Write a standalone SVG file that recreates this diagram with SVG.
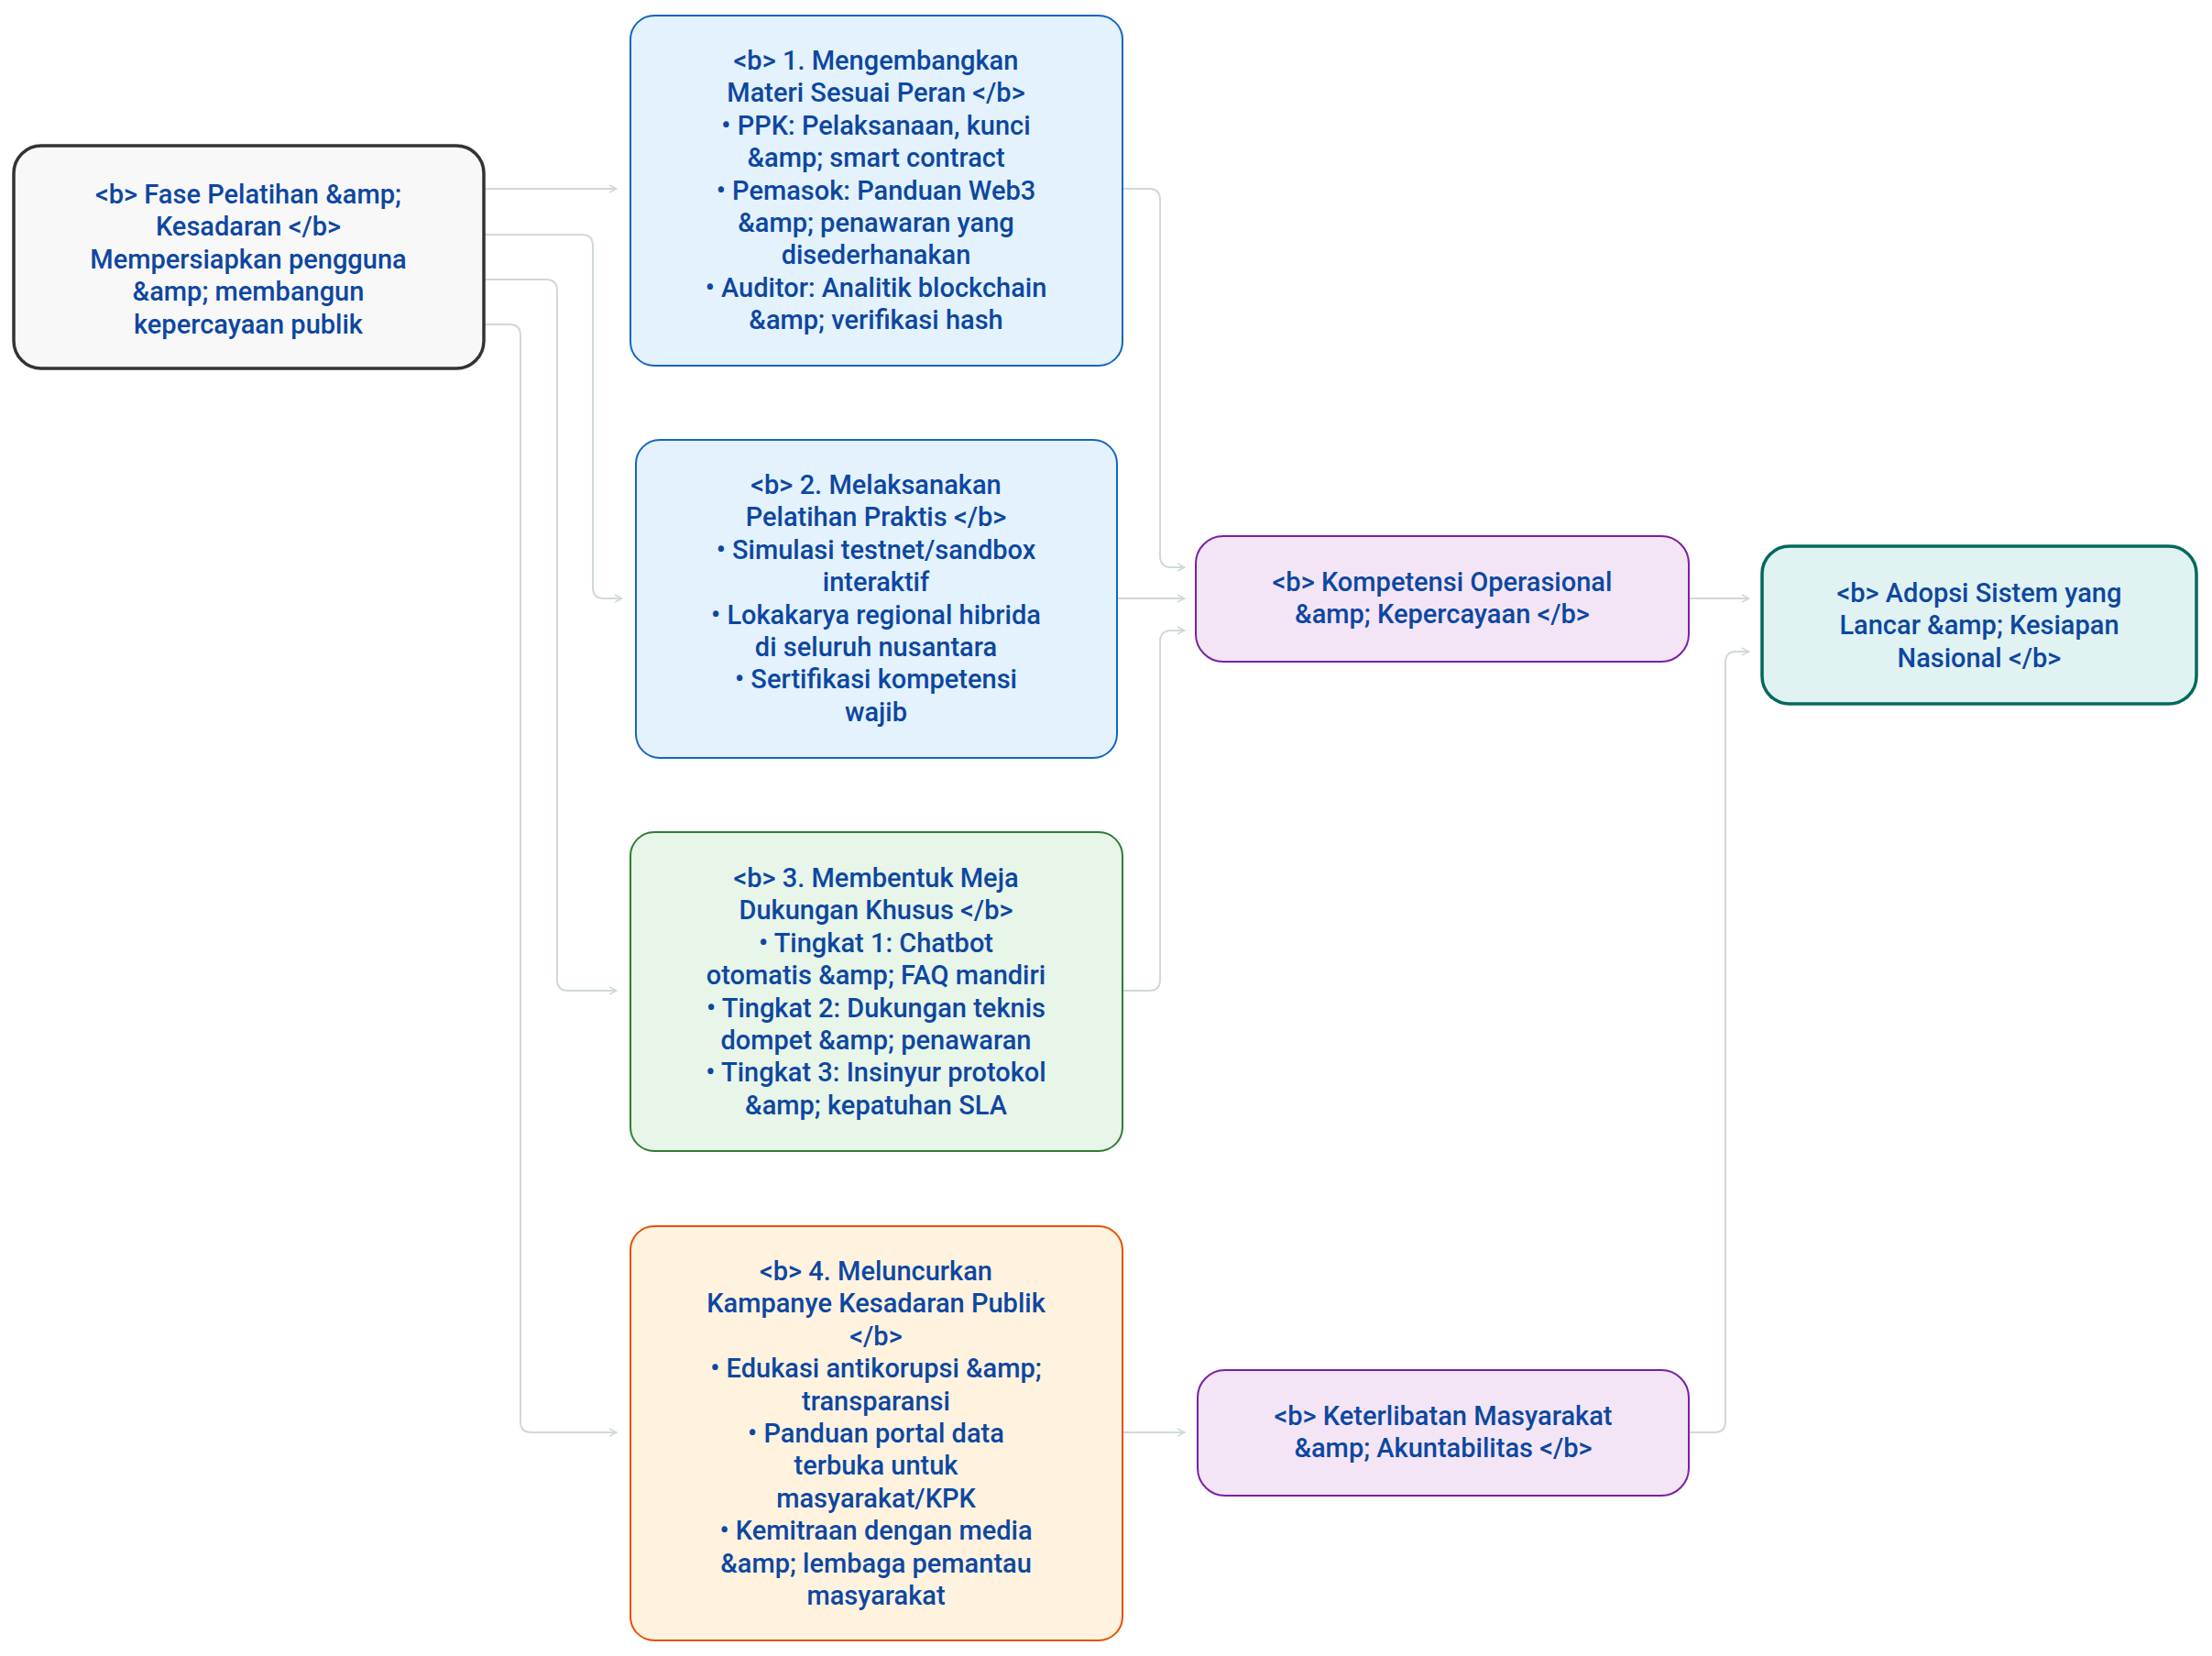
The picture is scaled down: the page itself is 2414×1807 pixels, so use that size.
<svg xmlns="http://www.w3.org/2000/svg" width="2414" height="1807" viewBox="0 0 2414 1807">
<style>
text{font-family:Roboto,"Liberation Sans",sans-serif;font-size:29px;font-weight:500;fill:#0d47a1;text-anchor:middle}
.c{fill:none;stroke:#cfd8dc;stroke-width:2}
</style>
<defs><marker id="a" viewBox="0 0 10 10" refX="9" refY="5" markerWidth="10" markerHeight="10" markerUnits="userSpaceOnUse" orient="auto"><path d="M1 1L9 5L1 9" fill="none" stroke="#cfd8dc" stroke-width="1.5"/></marker></defs>
<rect width="2414" height="1807" fill="#fff"/>
<g id="connectors">
<path class="c" marker-end="url(#a)" d="M528 206H673"/>
<path class="c" marker-end="url(#a)" d="M528 256H635Q647 256 647 268V641Q647 653 659 653H679"/>
<path class="c" marker-end="url(#a)" d="M528 305H596Q608 305 608 317V1069Q608 1081 620 1081H673"/>
<path class="c" marker-end="url(#a)" d="M528 354H556Q568 354 568 366V1551Q568 1563 580 1563H673"/>
<path class="c" marker-end="url(#a)" d="M1225 206H1254Q1266 206 1266 218V607Q1266 619 1278 619H1293"/>
<path class="c" marker-end="url(#a)" d="M1219 653H1293"/>
<path class="c" marker-end="url(#a)" d="M1225 1081H1254Q1266 1081 1266 1069V700Q1266 688 1278 688H1293"/>
<path class="c" marker-end="url(#a)" d="M1843 653H1909"/>
<path class="c" marker-end="url(#a)" d="M1225 1563H1293"/>
<path class="c" marker-end="url(#a)" d="M1843 1563H1871Q1883 1563 1883 1551V723Q1883 711 1895 711H1909"/>
</g>
<g id="fase"><rect x="15" y="159" width="513" height="243" rx="30" fill="#f8f8f8" stroke="#333" stroke-width="3.5"/>
<text y="222"><tspan x="271">&lt;b&gt; Fase Pelatihan &amp;amp;</tspan><tspan x="271" dy="35.4">Kesadaran &lt;/b&gt;</tspan><tspan x="271" dy="35.4">Mempersiapkan pengguna</tspan><tspan x="271" dy="35.4">&amp;amp; membangun</tspan><tspan x="271" dy="35.4">kepercayaan publik</tspan></text></g>
<g id="n1"><rect x="688" y="17" width="537" height="382" rx="26" fill="#e3f2fd" stroke="#1565c0" stroke-width="2"/>
<text y="76"><tspan x="956">&lt;b&gt; 1. Mengembangkan</tspan><tspan x="956" dy="35.4">Materi Sesuai Peran &lt;/b&gt;</tspan><tspan x="956" dy="35.4">• PPK: Pelaksanaan, kunci</tspan><tspan x="956" dy="35.4">&amp;amp; smart contract</tspan><tspan x="956" dy="35.4">• Pemasok: Panduan Web3</tspan><tspan x="956" dy="35.4">&amp;amp; penawaran yang</tspan><tspan x="956" dy="35.4">disederhanakan</tspan><tspan x="956" dy="35.4">• Auditor: Analitik blockchain</tspan><tspan x="956" dy="35.4">&amp;amp; verifikasi hash</tspan></text></g>
<g id="n2"><rect x="694" y="480" width="525" height="347" rx="26" fill="#e3f2fd" stroke="#1565c0" stroke-width="2"/>
<text y="539"><tspan x="956">&lt;b&gt; 2. Melaksanakan</tspan><tspan x="956" dy="35.4">Pelatihan Praktis &lt;/b&gt;</tspan><tspan x="956" dy="35.4">• Simulasi testnet/sandbox</tspan><tspan x="956" dy="35.4">interaktif</tspan><tspan x="956" dy="35.4">• Lokakarya regional hibrida</tspan><tspan x="956" dy="35.4">di seluruh nusantara</tspan><tspan x="956" dy="35.4">• Sertifikasi kompetensi</tspan><tspan x="956" dy="35.4">wajib</tspan></text></g>
<g id="n3"><rect x="688" y="908" width="537" height="348" rx="26" fill="#e8f5e9" stroke="#2e7d32" stroke-width="2"/>
<text y="968"><tspan x="956">&lt;b&gt; 3. Membentuk Meja</tspan><tspan x="956" dy="35.4">Dukungan Khusus &lt;/b&gt;</tspan><tspan x="956" dy="35.4">• Tingkat 1: Chatbot</tspan><tspan x="956" dy="35.4">otomatis &amp;amp; FAQ mandiri</tspan><tspan x="956" dy="35.4">• Tingkat 2: Dukungan teknis</tspan><tspan x="956" dy="35.4">dompet &amp;amp; penawaran</tspan><tspan x="956" dy="35.4">• Tingkat 3: Insinyur protokol</tspan><tspan x="956" dy="35.4">&amp;amp; kepatuhan SLA</tspan></text></g>
<g id="n4"><rect x="688" y="1338" width="537" height="452" rx="26" fill="#fff3e0" stroke="#e65100" stroke-width="2"/>
<text y="1397"><tspan x="956">&lt;b&gt; 4. Meluncurkan</tspan><tspan x="956" dy="35.4">Kampanye Kesadaran Publik</tspan><tspan x="956" dy="35.4">&lt;/b&gt;</tspan><tspan x="956" dy="35.4">• Edukasi antikorupsi &amp;amp;</tspan><tspan x="956" dy="35.4">transparansi</tspan><tspan x="956" dy="35.4">• Panduan portal data</tspan><tspan x="956" dy="35.4">terbuka untuk</tspan><tspan x="956" dy="35.4">masyarakat/KPK</tspan><tspan x="956" dy="35.4">• Kemitraan dengan media</tspan><tspan x="956" dy="35.4">&amp;amp; lembaga pemantau</tspan><tspan x="956" dy="35.4">masyarakat</tspan></text></g>
<g id="komp"><rect x="1305" y="585" width="538" height="137" rx="30" fill="#f3e5f5" stroke="#7b1fa2" stroke-width="2"/>
<text y="645"><tspan x="1574">&lt;b&gt; Kompetensi Operasional</tspan><tspan x="1574" dy="35.4">&amp;amp; Kepercayaan &lt;/b&gt;</tspan></text></g>
<g id="keter"><rect x="1307" y="1495" width="536" height="137" rx="30" fill="#f3e5f5" stroke="#7b1fa2" stroke-width="2"/>
<text y="1555"><tspan x="1575">&lt;b&gt; Keterlibatan Masyarakat</tspan><tspan x="1575" dy="35.4">&amp;amp; Akuntabilitas &lt;/b&gt;</tspan></text></g>
<g id="adopsi"><rect x="1923" y="596" width="474" height="172" rx="30" fill="#e0f2f1" stroke="#00695c" stroke-width="3.5"/>
<text y="657"><tspan x="2160">&lt;b&gt; Adopsi Sistem yang</tspan><tspan x="2160" dy="35.4">Lancar &amp;amp; Kesiapan</tspan><tspan x="2160" dy="35.4">Nasional &lt;/b&gt;</tspan></text></g>
</svg>
